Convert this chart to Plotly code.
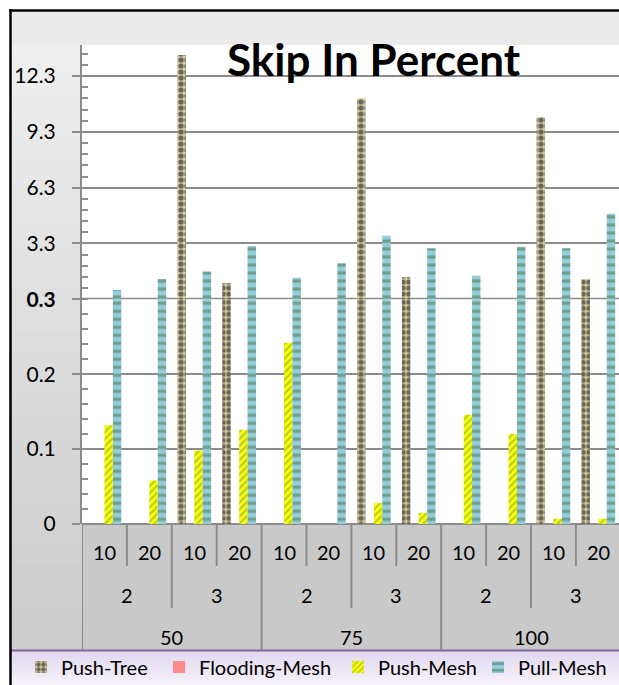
import plotly.graph_objects as go

# ---------------- data ----------------
sizes = ["50", "75", "100"]          # outer level
degrees = ["2", "3"]                 # middle level
rates = ["10", "20"]                 # inner level

push_tree = [0, 0, 13.43, 1.16, 0, 0, 11.1, 1.49, 0, 0, 10.08, 1.38]
flooding_mesh = [0, 0, 0, 0, 0, 0, 0, 0, 0, 0, 0, 0]
push_mesh = [0.132, 0.058, 0.098, 0.126, 0.242, 0, 0.028, 0.015, 0.146, 0.12, 0.007, 0.007]
pull_mesh = [0.80, 1.39, 1.79, 3.17, 1.46, 2.24, 3.71, 3.05, 1.56, 3.13, 3.05, 4.90]

series_names = ["Push-Tree", "Flooding-Mesh", "Push-Mesh", "Pull-Mesh"]
upper_ticks = [0.3, 3.3, 6.3, 9.3, 12.3]
upper_labels = ["<b>0.3</b>", "3.3", "6.3", "9.3", "12.3"]
lower_ticks = [0, 0.1, 0.2]
lower_labels = ["0", "0.1", "0.2"]
title_text = "Skip In Percent"

# ---------------- geometry (page pixels) ----------------
OFF = 0
PAGE_W, PAGE_H = 619, 685
W, H = PAGE_W - OFF, PAGE_H - OFF
LEFT_PX, TOP_PX, ZERO_PX, BREAK_PX = 82, 45, 524, 299.3
ML, MT = LEFT_PX - OFF, TOP_PX - OFF
MR = 0
MB = PAGE_H - ZERO_PX
PW, PH = W - ML - MR, H - MT - MB


def px2x(px):
    return (px - LEFT_PX) / PW


def py2y(py):
    return (ZERO_PX - py) / PH


split = py2y(BREAK_PX)
n_cat = len(sizes) * len(degrees) * len(rates)
xs = list(range(n_cat))
CAT_W = 44.9

FONT = "Lato"
GRID = "#8c8c8c"

styles = [
    dict(marker=dict(color="#cdc59f", line=dict(width=0),
                     pattern=dict(shape=".", fgcolor="#0a0a0a", size=6, solidity=0.6))),
    dict(marker=dict(color="#ff8a8a", line=dict(width=0))),
    dict(marker=dict(color="#ffff00", line=dict(width=0),
                     pattern=dict(shape="/", fgcolor="#6f9f55", size=5, solidity=0.45))),
    dict(marker=dict(color="#92cddc", line=dict(width=0),
                     pattern=dict(shape="-", fgcolor="#4d6e3c", size=8, solidity=0.4))),
]
values = [push_tree, flooding_mesh, push_mesh, pull_mesh]

fig = go.Figure()
legend_ids = ["legend", "legend2", "legend3", "legend4"]
for i, (name, vals) in enumerate(zip(series_names, values)):
    fig.add_trace(go.Bar(x=xs, y=vals, name=name, xaxis="x", yaxis="y",
                         legend=legend_ids[i], showlegend=True, **styles[i]))
for i, (name, vals) in enumerate(zip(series_names, values)):
    fig.add_trace(go.Bar(x=xs, y=vals, name=name, xaxis="x", yaxis="y2",
                         showlegend=False, **styles[i]))

shapes = []
N = 30
top, bot = 12, 650
for k in range(N):
    y0 = top + (bot - top) * k / N
    y1 = top + (bot - top) * (k + 1) / N
    t = k / (N - 1)
    c = int(241 - t * 37)
    shapes.append(dict(type="rect", xref="paper", yref="paper", layer="below",
                       x0=px2x(11), x1=px2x(LEFT_PX), y0=py2y(y0), y1=py2y(y1 + 0.6),
                       fillcolor=f"rgb({c},{c},{c})", line=dict(width=0)))
shapes.append(dict(type="rect", xref="paper", yref="paper", layer="below",
                   x0=px2x(11), x1=px2x(PAGE_W + 2), y0=py2y(12), y1=py2y(TOP_PX),
                   fillcolor="#ebebeb", line=dict(width=0)))
shapes.append(dict(type="rect", xref="paper", yref="paper", layer="below",
                   x0=px2x(LEFT_PX), x1=px2x(PAGE_W + 2), y0=py2y(ZERO_PX), y1=py2y(650),
                   fillcolor="#c9c9c9", line=dict(width=0)))
N2 = 10
for k in range(N2):
    y0 = 650 + 35 * k / N2
    y1 = 650 + 35 * (k + 1) / N2
    t = k / (N2 - 1)
    r = int(226 + t * 20); g = int(217 + t * 25); b = int(240 + t * 10)
    shapes.append(dict(type="rect", xref="paper", yref="paper", layer="below",
                       x0=px2x(11), x1=px2x(PAGE_W + 2), y0=py2y(y0), y1=py2y(y1 + 0.6),
                       fillcolor=f"rgb({r},{g},{b})", line=dict(width=0)))
shapes.append(dict(type="line", xref="paper", yref="paper",
                   x0=px2x(11), x1=px2x(PAGE_W + 2), y0=py2y(650.5), y1=py2y(650.5),
                   line=dict(color="#8064a2", width=2)))
shapes.append(dict(type="line", xref="paper", yref="paper",
                   x0=px2x(10.5), x1=px2x(10.5), y0=py2y(9), y1=py2y(PAGE_H + 2),
                   line=dict(color="black", width=2.5)))
shapes.append(dict(type="line", xref="paper", yref="paper",
                   x0=px2x(9), x1=px2x(PAGE_W + 2), y0=py2y(10.5), y1=py2y(10.5),
                   line=dict(color="black", width=2.5)))
shapes.append(dict(type="line", xref="paper", yref="y2", layer="between",
                   x0=0, x1=1, y0=upper_ticks[0], y1=upper_ticks[0],
                   line=dict(color=GRID, width=3)))
group2 = len(rates)
group3 = len(rates) * len(degrees)
for b in range(n_cat + 1):
    if b % group3 == 0:
        bottom_px = 650
    elif b % group2 == 0:
        bottom_px = 608
    else:
        bottom_px = 566
    shapes.append(dict(type="line", xref="x", yref="paper",
                       x0=b - 0.5, x1=b - 0.5, y0=py2y(ZERO_PX), y1=py2y(bottom_px),
                       line=dict(color=GRID, width=2)))

annotations = []
lab_font = dict(family=FONT, size=20, color="black")
for i in xs:
    annotations.append(dict(x=i, y=py2y(552), xref="x", yref="paper", text=rates[i % len(rates)],
                            showarrow=False, font=lab_font, xanchor="center", yanchor="middle"))
for j in range(n_cat // group2):
    annotations.append(dict(x=j * group2 + (group2 - 1) / 2, y=py2y(595), xref="x", yref="paper",
                            text=degrees[j % len(degrees)], showarrow=False, font=lab_font,
                            xanchor="center", yanchor="middle"))
for k, s in enumerate(sizes):
    annotations.append(dict(x=k * group3 + (group3 - 1) / 2, y=py2y(637), xref="x", yref="paper",
                            text=s, showarrow=False, font=lab_font,
                            xanchor="center", yanchor="middle"))
annotations.append(dict(x=px2x(374), y=py2y(59), xref="paper", yref="paper", text=title_text,
                        showarrow=False, xanchor="center", yanchor="middle",
                        font=dict(family=FONT, size=44, color="black", weight="bold")))

legend_text_px = [61, 199, 378, 518]
legends = {}
for lid, tx in zip(legend_ids, legend_text_px):
    legends[lid] = dict(x=px2x(tx - 40), y=py2y(667), xref="paper", yref="paper",
                        xanchor="left", yanchor="middle", orientation="h",
                        bgcolor="rgba(0,0,0,0)", borderwidth=0, itemwidth=30,
                        font=dict(family=FONT, size=20, color="black"))

axis_common = dict(showline=True, linecolor=GRID, linewidth=2, ticks="outside", ticklen=8,
                   tickcolor=GRID, tickwidth=2, showgrid=True, gridcolor=GRID, gridwidth=2,
                   tickfont=dict(family=FONT, size=21, color="black"), ticklabelstandoff=12,
                   fixedrange=True)

fig.update_layout(
    width=W, height=H,
    margin=dict(l=ML, r=MR, t=MT, b=MB, autoexpand=False),
    paper_bgcolor="white", plot_bgcolor="white",
    barmode="group", bargap=0.25, bargroupgap=0,
    xaxis=dict(range=[-0.5, -0.5 + PW / CAT_W], showgrid=False, zeroline=False,
               showticklabels=False, ticks="", showline=False, fixedrange=True),
    yaxis=dict(domain=[0, split], range=[0, 0.3], tickmode="array", tickvals=lower_ticks,
               ticktext=lower_labels, zeroline=True, zerolinecolor=GRID, zerolinewidth=2,
               minor=dict(tick0=0, dtick=0.02, ticks="inside", ticklen=6, tickcolor=GRID,
                          tickwidth=1.5, showgrid=False),
               **axis_common),
    yaxis2=dict(domain=[split, 1], range=[0.3, 12.3 + (76 - TOP_PX) / 18.56], anchor="x",
                tickmode="array", tickvals=upper_ticks, ticktext=upper_labels, zeroline=False,
                minor=dict(tick0=0.3, dtick=0.6, ticks="inside", ticklen=6, tickcolor=GRID,
                           tickwidth=1.5, showgrid=False),
                **axis_common),
    shapes=shapes,
    annotations=annotations,
    **legends,
)

fig.write_html(
    "out.html",
    config={"displayModeBar": False},
    post_script="document.body.style.margin='0px';document.body.style.overflow='hidden';",
)
